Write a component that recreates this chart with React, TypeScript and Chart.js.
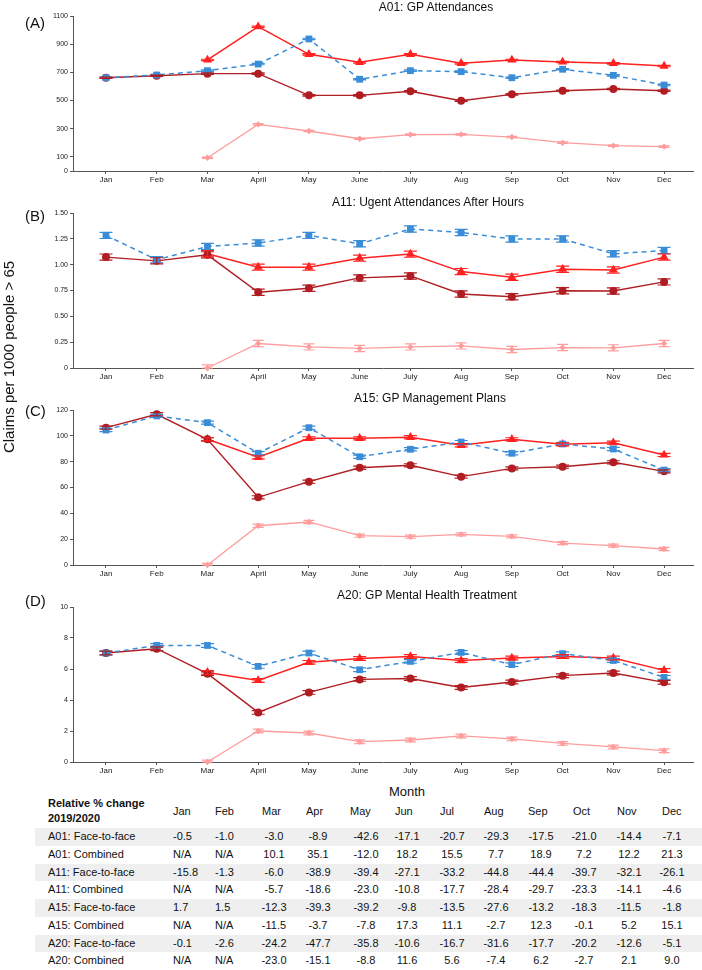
import React, { useEffect, useRef } from "react";
import { Chart, registerables } from "chart.js";
Chart.register(...registerables);

const FONT = '"Liberation Sans", Arial, Helvetica, sans-serif';

// ---------- data ----------
const months = ["Jan", "Feb", "Mar", "April", "May", "June", "July", "Aug", "Sep", "Oct", "Nov", "Dec"];

// A01: GP Attendances
const a01Blue = [662, 681, 712, 759, 937, 651, 712, 705, 662, 722, 679, 610];
const a01Red = [null, null, 788, 1024, 828, 771, 828, 764, 788, 774, 764, 745];
const a01Dark = [662, 676, 691, 691, 537, 537, 566, 499, 544, 570, 582, 570];
const a01Pink = [null, null, 94, 331, 284, 229, 258, 260, 241, 201, 180, 173];
const a01Ticks = [0, 100, 300, 500, 700, 900, 1100];

// A11: Urgent attendances after hours
const a11Blue = [1.283, 1.047, 1.176, 1.209, 1.283, 1.202, 1.345, 1.312, 1.248, 1.248, 1.105, 1.137];
const a11Red = [null, null, 1.105, 0.976, 0.976, 1.063, 1.102, 0.933, 0.878, 0.956, 0.949, 1.073];
const a11Dark = [1.073, 1.037, 1.095, 0.733, 0.772, 0.872, 0.891, 0.716, 0.69, 0.748, 0.745, 0.833];
const a11Pink = [null, null, 0, 0.237, 0.204, 0.189, 0.204, 0.214, 0.179, 0.198, 0.195, 0.237];
const a11Ticks = [0, 0.25, 0.5, 0.75, 1.0, 1.25, 1.5];

// A15: GP Management Plans
const a15Blue = [104.5, 115.4, 110.2, 86.5, 106.3, 83.8, 89.6, 95.2, 86.5, 93.7, 89.8, 73.5];
const a15Red = [null, null, 97.3, 83.4, 98.1, 98.1, 98.9, 92.7, 97.3, 93.4, 94.7, 85.2];
const a15Dark = [106.3, 116.7, 97.3, 52.4, 64.5, 75.3, 77.2, 68.4, 74.8, 76.1, 79.5, 72.5];
const a15Pink = [null, null, 0, 30.4, 33.3, 22.7, 21.9, 23.7, 22.2, 17.0, 15.0, 12.4];
const a15Ticks = [0, 20, 40, 60, 80, 100, 120];

// A20: GP Mental Health Treatment
const a20Blue = [7.03, 7.52, 7.52, 6.17, 7.03, 5.95, 6.49, 7.07, 6.28, 6.99, 6.55, 5.46];
const a20Red = [null, null, 5.78, 5.26, 6.43, 6.68, 6.81, 6.55, 6.71, 6.81, 6.71, 5.91];
const a20Dark = [7.03, 7.31, 5.7, 3.2, 4.49, 5.33, 5.39, 4.81, 5.16, 5.57, 5.74, 5.14];
const a20Pink = [null, null, 0, 2.0, 1.87, 1.31, 1.42, 1.68, 1.49, 1.2, 0.97, 0.73];
const a20Ticks = [0, 2, 4, 6, 8, 10];

// error-bar half widths per panel
const panelErr = [5, 0.03, 1.2, 0.12];

// table
const tableMonths = ["Jan", "Feb", "Mar", "Apr", "May", "Jun", "Jul", "Aug", "Sep", "Oct", "Nov", "Dec"];
const rowLabels = [
  "A01: Face-to-face", "A01: Combined", "A11: Face-to-face", "A11: Combined",
  "A15: Face-to-face", "A15: Combined", "A20: Face-to-face", "A20: Combined",
];
const a01FaceRow = ["-0.5", "-1.0", "-3.0", "-8.9", "-42.6", "-17.1", "-20.7", "-29.3", "-17.5", "-21.0", "-14.4", "-7.1"];
const a01CombRow = ["N/A", "N/A", "10.1", "35.1", "-12.0", "18.2", "15.5", "7.7", "18.9", "7.2", "12.2", "21.3"];
const a11FaceRow = ["-15.8", "-1.3", "-6.0", "-38.9", "-39.4", "-27.1", "-33.2", "-44.8", "-44.4", "-39.7", "-32.1", "-26.1"];
const a11CombRow = ["N/A", "N/A", "-5.7", "-18.6", "-23.0", "-10.8", "-17.7", "-28.4", "-29.7", "-23.3", "-14.1", "-4.6"];
const a15FaceRow = ["1.7", "1.5", "-12.3", "-39.3", "-39.2", "-9.8", "-13.5", "-27.6", "-13.2", "-18.3", "-11.5", "-1.8"];
const a15CombRow = ["N/A", "N/A", "-11.5", "-3.7", "-7.8", "17.3", "11.1", "-2.7", "12.3", "-0.1", "5.2", "15.1"];
const a20FaceRow = ["-0.1", "-2.6", "-24.2", "-47.7", "-35.8", "-10.6", "-16.7", "-31.6", "-17.7", "-20.2", "-12.6", "-5.1"];
const a20CombRow = ["N/A", "N/A", "-23.0", "-15.1", "-8.8", "11.6", "5.6", "-7.4", "6.2", "-2.7", "2.1", "9.0"];
const tableRows = [a01FaceRow, a01CombRow, a11FaceRow, a11CombRow, a15FaceRow, a15CombRow, a20FaceRow, a20CombRow];

// ---------- styling / layout ----------
const COLORS = { blue: "#3a8dd6", red: "#ff2020", dark: "#b01d22", pink: "#ff9d9d" };

type Panel = {
  letter: string; title: string; titleX: number; titleTop: number;
  blue: (number | null)[]; red: (number | null)[]; dark: (number | null)[]; pink: (number | null)[];
  ticks: number[]; err: number; fmt: (v: number) => string;
  canvasTop: number; canvasHeight: number; plotTop: number; plotBottom: number; labelTop: number;
};

const panels: Panel[] = [
  { letter: "(A)", title: "A01: GP Attendances", titleX: 436, titleTop: 1, blue: a01Blue, red: a01Red, dark: a01Dark, pink: a01Pink,
    ticks: a01Ticks, err: panelErr[0], fmt: (v) => String(v), canvasTop: 0, canvasHeight: 193, plotTop: 16, plotBottom: 171, labelTop: 14.7 },
  { letter: "(B)", title: "A11: Ugent Attendances After Hours", titleX: 428, titleTop: 196, blue: a11Blue, red: a11Red, dark: a11Dark, pink: a11Pink,
    ticks: a11Ticks, err: panelErr[1], fmt: (v) => (v === 0 ? "0" : v.toFixed(2)), canvasTop: 193, canvasHeight: 197, plotTop: 213, plotBottom: 368, labelTop: 207.7 },
  { letter: "(C)", title: "A15: GP Management Plans", titleX: 430, titleTop: 392, blue: a15Blue, red: a15Red, dark: a15Dark, pink: a15Pink,
    ticks: a15Ticks, err: panelErr[2], fmt: (v) => String(v), canvasTop: 390, canvasHeight: 197, plotTop: 410, plotBottom: 565, labelTop: 402.7 },
  { letter: "(D)", title: "A20: GP Mental Health Treatment", titleX: 427, titleTop: 589, blue: a20Blue, red: a20Red, dark: a20Dark, pink: a20Pink,
    ticks: a20Ticks, err: panelErr[3], fmt: (v) => String(v), canvasTop: 587, canvasHeight: 197, plotTop: 607, plotBottom: 762, labelTop: 592.7 },
];

const PLOT_LEFT = 73;
const PLOT_RIGHT = 693;
const W = 702;

const errorBarPlugin = {
  id: "errbars",
  afterDatasetsDraw(chart: any, _args: any, opts: any) {
    const { ctx } = chart;
    const ys = chart.scales.y;
    const err = opts.err || 0;
    chart.data.datasets.forEach((ds: any, di: number) => {
      const meta = chart.getDatasetMeta(di);
      ctx.save();
      ctx.strokeStyle = ds.borderColor;
      ctx.lineWidth = 1.2;
      ctx.setLineDash([]);
      meta.data.forEach((pt: any, i: number) => {
        const raw = ds.data[i].y;
        if (raw == null) return;
        const x = pt.x;
        const t = ys.getPixelForValue(raw + err);
        const b = ys.getPixelForValue(Math.max(0, raw - err));
        const w = ds.capW / 2;
        ctx.beginPath();
        ctx.moveTo(x, t); ctx.lineTo(x, b);
        ctx.moveTo(x - w, t); ctx.lineTo(x + w, t);
        ctx.moveTo(x - w, b); ctx.lineTo(x + w, b);
        ctx.stroke();
      });
      ctx.restore();
    });
  },
};

function toXY(arr: (number | null)[]) {
  return arr.map((y, i) => ({ x: i, y }));
}

function PanelChart({ p }: { p: Panel }) {
  const ref = useRef<HTMLCanvasElement | null>(null);
  useEffect(() => {
    if (!ref.current) return;
    const xh = p.canvasHeight - (p.plotBottom - p.canvasTop);
    const chart = new Chart(ref.current, {
      type: "line",
      data: {
        datasets: [
          { data: toXY(p.blue), borderColor: COLORS.blue, backgroundColor: COLORS.blue, borderWidth: 1.5, borderDash: [5, 4],
            pointStyle: "rect", pointRadius: 4.8, pointBorderWidth: 0, capW: 13, clip: false } as any,
          { data: toXY(p.dark), borderColor: COLORS.dark, backgroundColor: COLORS.dark, borderWidth: 1.4,
            pointStyle: "circle", pointRadius: 4, pointBorderWidth: 0, capW: 13, clip: false } as any,
          { data: toXY(p.red), borderColor: COLORS.red, backgroundColor: COLORS.red, borderWidth: 1.5,
            pointStyle: "triangle", pointRadius: 5.3, pointBorderWidth: 0, capW: 13, clip: false } as any,
          { data: toXY(p.pink), borderColor: COLORS.pink, backgroundColor: COLORS.pink, borderWidth: 1.3,
            pointStyle: "rectRot", pointRadius: 3.2, pointBorderWidth: 0, capW: 11, clip: false } as any,
        ],
      },
      options: {
        responsive: false,
        animation: false,
        devicePixelRatio: 1,
        layout: { padding: { top: p.plotTop - p.canvasTop, right: W - PLOT_RIGHT, left: 0, bottom: 0 } },
        plugins: { legend: { display: false }, title: { display: false }, tooltip: { enabled: false }, errbars: { err: p.err } } as any,
        scales: {
          x: {
            type: "linear", min: -0.65, max: 11.57,
            afterBuildTicks: (s: any) => { s.ticks = months.map((_, i) => ({ value: i })); },
            afterFit: (s: any) => { s.height = xh; },
            ticks: { autoSkip: false, maxRotation: 0, minRotation: 0, padding: 1, color: "#222",
              font: { family: FONT, size: 8 }, callback: (_v: any, i: number) => months[i] },
            grid: { drawOnChartArea: false, drawTicks: true, tickLength: 3, color: "#555" },
            border: { display: true, color: "#555", width: 1 },
          },
          y: {
            type: "linear", min: 0, max: p.ticks[p.ticks.length - 1],
            afterBuildTicks: (s: any) => { s.ticks = p.ticks.map((v) => ({ value: v })); },
            afterFit: (s: any) => { s.width = PLOT_LEFT; },
            ticks: { padding: 2, color: "#222", font: { family: FONT, size: 7 }, callback: (v: any) => p.fmt(Number(v)) },
            grid: { drawOnChartArea: false, drawTicks: true, tickLength: 3, color: "#555" },
            border: { display: true, color: "#555", width: 1 },
          },
        },
      } as any,
      plugins: [errorBarPlugin],
    });
    return () => chart.destroy();
  }, [p]);
  return (
    <canvas ref={ref} width={W} height={p.canvasHeight}
      style={{ position: "absolute", left: 0, top: p.canvasTop, width: W, height: p.canvasHeight }} />
  );
}

const colStart = [173, 215, 262, 306, 350, 395, 440, 484, 528, 573, 617, 662];
const colCenter = [182, 224, 274, 318, 366, 407, 452, 496, 541, 584, 629, 672];
const ROW0 = 837;
const ROWH = 17.75;

export default function App() {
  const txt: React.CSSProperties = { position: "absolute", fontFamily: FONT, color: "#111", whiteSpace: "nowrap" };
  return (
    <div style={{ position: "absolute", left: 0, top: 0, width: W, height: 970, background: "#fff", overflow: "hidden" }}>
      {panels.map((p) => (
        <React.Fragment key={p.letter}>
          <PanelChart p={p} />
          <div style={{ ...txt, left: 25, top: p.labelTop, fontSize: 15, lineHeight: "15px" }}>{p.letter}</div>
          <div style={{ ...txt, left: p.titleX, top: p.titleTop, fontSize: 12, lineHeight: "12px", transform: "translateX(-50%)" }}>{p.title}</div>
        </React.Fragment>
      ))}
      <div style={{ ...txt, left: 7.5, top: 357, fontSize: 15, lineHeight: "15px", transform: "translate(-50%, -50%) rotate(-90deg)" }}>
        Claims per 1000 people &gt; 65
      </div>
      <div style={{ ...txt, left: 407, top: 785, fontSize: 13, lineHeight: "13px", transform: "translateX(-50%)" }}>Month</div>

      {/* table header */}
      <div style={{ ...txt, left: 48, top: 804 - 8.875, fontSize: 11, lineHeight: ROWH + "px", fontWeight: "bold" }}>Relative % change</div>
      <div style={{ ...txt, left: 48, top: 819 - 8.875, fontSize: 11, lineHeight: ROWH + "px", fontWeight: "bold" }}>2019/2020</div>
      {tableMonths.map((m, j) => (
        <div key={m} style={{ ...txt, left: colStart[j], top: 812 - 8.875, fontSize: 11, lineHeight: ROWH + "px" }}>{m}</div>
      ))}
      {tableRows.map((row, i) => (
        <div key={rowLabels[i]} style={{ position: "absolute", left: 35, top: ROW0 - ROWH / 2 + i * ROWH, width: W - 35, height: ROWH,
          background: i % 2 === 0 ? "#efefef" : "transparent" }}>
          <div style={{ ...txt, left: 13, top: 0, fontSize: 11, lineHeight: ROWH + "px" }}>{rowLabels[i]}</div>
          {row.map((v, j) => (
            j < 2 ? (
              <div key={j} style={{ ...txt, left: colStart[j] - 35, top: 0, fontSize: 11, lineHeight: ROWH + "px" }}>{v}</div>
            ) : (
              <div key={j} style={{ ...txt, left: colCenter[j] - 35 - 25, width: 50, textAlign: "center", top: 0, fontSize: 11, lineHeight: ROWH + "px" }}>{v}</div>
            )
          ))}
        </div>
      ))}
    </div>
  );
}
